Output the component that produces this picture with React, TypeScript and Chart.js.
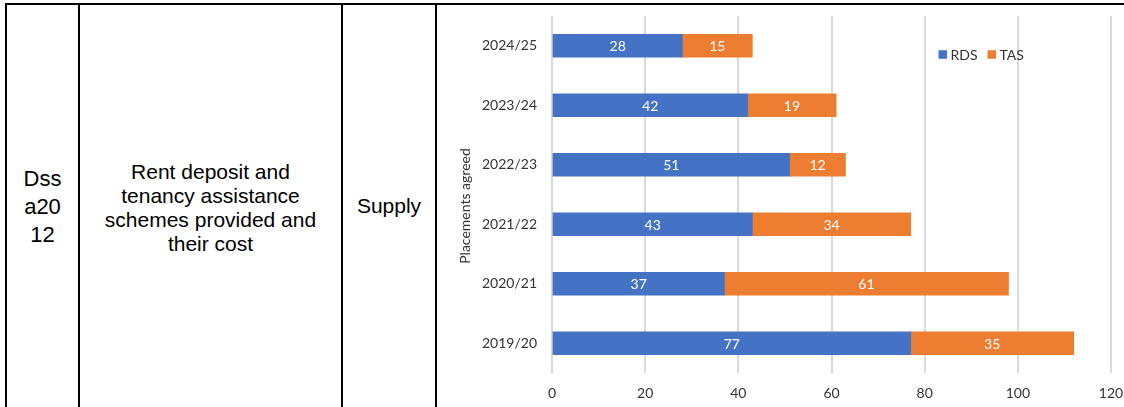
import React, { useEffect, useRef } from 'react';
import { Chart, registerables } from 'chart.js';

Chart.register(...registerables);

// ---- data ----
const YEARS = ['2024/25', '2023/24', '2022/23', '2021/22', '2020/21', '2019/20'];
const RDS = [28, 42, 51, 43, 37, 77];
const TAS = [15, 19, 12, 34, 61, 35];
const SERIES_NAMES = ['RDS', 'TAS'];
const X_MIN = 0;
const X_MAX = 120;
const X_STEP = 20;
const Y_TITLE = 'Placements agreed';
const CELL_CODE = ['Dss', 'a20', '12'];
const CELL_DESC = ['Rent deposit and', 'tenancy assistance', 'schemes provided and', 'their cost'];
const CELL_TYPE = 'Supply';

// ---- style ----
const COLORS = ['#4472C4', '#ED7D31'];
const FONT = 'Lato, "Open Sans", sans-serif';
const TEXT_COLOR = '#333333';
const GRID_COLOR = '#D9D9D9';

const valueLabels = {
  id: 'valueLabels',
  afterDatasetsDraw(chart: any) {
    const ctx = chart.ctx;
    ctx.save();
    ctx.fillStyle = '#ffffff';
    ctx.font = `14px ${FONT}`;
    ctx.textAlign = 'center';
    ctx.textBaseline = 'middle';
    chart.data.datasets.forEach((ds: any, i: number) => {
      const meta = chart.getDatasetMeta(i);
      meta.data.forEach((el: any, j: number) => {
        const p = el.getCenterPoint();
        ctx.fillText(String(ds.data[j]), p.x, p.y + 1);
      });
    });
    ctx.restore();
  },
};

const insideLegend = {
  id: 'insideLegend',
  afterDraw(chart: any) {
    const ctx = chart.ctx;
    ctx.save();
    ctx.font = `14px ${FONT}`;
    ctx.textBaseline = 'middle';
    ctx.textAlign = 'left';
    let x = 501.5;
    const y = 49.5;
    const box = 8.5;
    chart.data.datasets.forEach((ds: any) => {
      ctx.fillStyle = ds.backgroundColor;
      ctx.fillRect(x, y - box / 2, box, box);
      ctx.fillStyle = TEXT_COLOR;
      ctx.fillText(ds.label, x + box + 3.5, y + 1);
      x += box + 3.5 + ctx.measureText(ds.label).width + 10;
    });
    ctx.restore();
  },
};

const yTitle = {
  id: 'yTitle',
  afterDraw(chart: any) {
    const ctx = chart.ctx;
    ctx.save();
    ctx.translate(28, 201);
    ctx.rotate(-Math.PI / 2);
    ctx.font = `14px ${FONT}`;
    ctx.fillStyle = TEXT_COLOR;
    ctx.textAlign = 'center';
    ctx.textBaseline = 'middle';
    ctx.fillText(Y_TITLE, 0, 0);
    ctx.restore();
  },
};

function BarChart() {
  const ref = useRef<HTMLCanvasElement | null>(null);
  useEffect(() => {
    if (!ref.current) return;
    const chart = new Chart(ref.current, {
      type: 'bar',
      data: {
        labels: YEARS,
        datasets: [
          { label: SERIES_NAMES[0], data: RDS, backgroundColor: COLORS[0], borderWidth: 0 },
          { label: SERIES_NAMES[1], data: TAS, backgroundColor: COLORS[1], borderWidth: 0 },
        ],
      },
      options: {
        indexAxis: 'y',
        responsive: false,
        animation: false,
        layout: { padding: { top: 11, right: 13, left: 0, bottom: 0 } },
        datasets: { bar: { barThickness: 23 } },
        scales: {
          x: {
            stacked: true,
            min: X_MIN,
            max: X_MAX,
            ticks: { stepSize: X_STEP, padding: 12, color: TEXT_COLOR, font: { family: FONT, size: 14 } },
            grid: { color: GRID_COLOR, lineWidth: 2, drawTicks: false },
            border: { display: false },
            afterFit(s: any) { s.height = 34; s.paddingLeft = 0; s.paddingRight = 0; },
          },
          y: {
            stacked: true,
            ticks: { padding: 15, color: TEXT_COLOR, font: { family: FONT, size: 14 } },
            grid: { display: false, drawTicks: false },
            border: { display: false },
            afterFit(s: any) { s.width = 115; s.paddingTop = 0; s.paddingBottom = 0; },
          },
        },
        plugins: { legend: { display: false }, tooltip: { enabled: false } },
      } as any,
      plugins: [valueLabels, insideLegend, yTitle],
    });
    return () => chart.destroy();
  }, []);
  return <canvas ref={ref} width={687} height={402} style={{ display: 'block', width: 687, height: 402 }} />;
}

const lineStyle = (left: number): React.CSSProperties => ({
  position: 'absolute', left, top: 3, width: 2, height: 404, background: '#000',
});

export default function App() {
  const textBase: React.CSSProperties = {
    position: 'absolute', textAlign: 'center', whiteSpace: 'nowrap',
    fontFamily: '"Liberation Sans", Arial, sans-serif', color: '#000',
  };
  return (
    <div style={{ position: 'absolute', left: 0, top: 0, width: 1124, height: 407, overflow: 'hidden', background: '#fff' }}>
      <div style={{ position: 'absolute', left: 5, top: 3, width: 1119, height: 2, background: '#000' }} />
      <div style={lineStyle(5)} />
      <div style={lineStyle(78)} />
      <div style={lineStyle(341)} />
      <div style={lineStyle(435)} />
      <div style={{ ...textBase, left: 7, width: 71, top: 165, fontSize: 22, lineHeight: '28px' }}>
        {CELL_CODE.map((t, i) => <div key={i}>{t}</div>)}
      </div>
      <div style={{ ...textBase, left: 80, width: 261, top: 159.5, fontSize: 21, lineHeight: '24.2px' }}>
        {CELL_DESC.map((t, i) => <div key={i}>{t}</div>)}
      </div>
      <div style={{ ...textBase, left: 343, width: 92, top: 194, fontSize: 21, lineHeight: '24px' }}>
        {CELL_TYPE}
      </div>
      <div style={{ position: 'absolute', left: 437, top: 5 }}>
        <BarChart />
      </div>
    </div>
  );
}
